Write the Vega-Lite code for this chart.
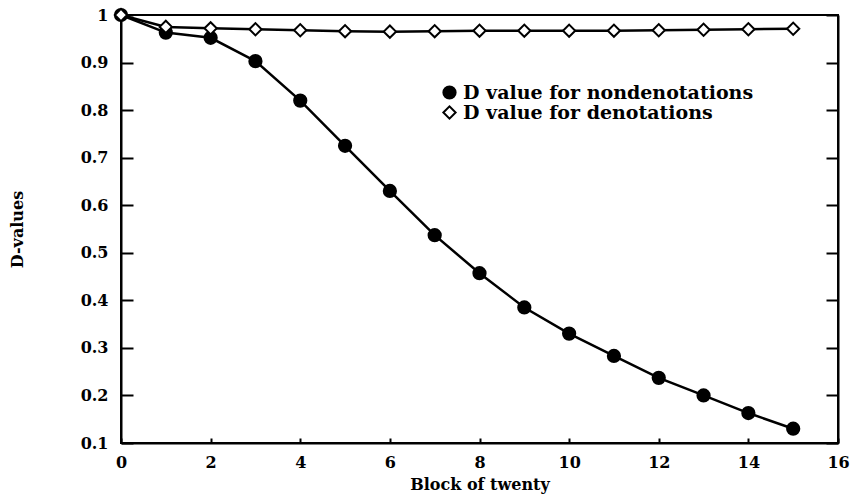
{
  "$schema": "https://vega.github.io/schema/vega-lite/v6.json",
  "width": 717,
  "height": 428,
  "autosize": "none",
  "padding": {"left": 121, "top": 15, "right": 15, "bottom": 60},
  "background": "white",
  "config": {
    "view": {"stroke": "black", "strokeWidth": 2},
    "font": "DejaVu Serif",
    "axis": {
      "grid": false,
      "domainColor": "black",
      "domainWidth": 2,
      "tickColor": "black",
      "tickWidth": 2,
      "labelFont": "DejaVu Serif",
      "labelFontWeight": "bold",
      "labelFontSize": 16,
      "labelColor": "black",
      "titleFont": "DejaVu Serif",
      "titleFontWeight": "bold",
      "titleFontSize": 16,
      "titleColor": "black"
    }
  },
  "data": {
    "values": [
      {"block": 0, "d": 1.0, "series": "D value for nondenotations"},
      {"block": 1, "d": 0.963, "series": "D value for nondenotations"},
      {"block": 2, "d": 0.952, "series": "D value for nondenotations"},
      {"block": 3, "d": 0.903, "series": "D value for nondenotations"},
      {"block": 4, "d": 0.82, "series": "D value for nondenotations"},
      {"block": 5, "d": 0.725, "series": "D value for nondenotations"},
      {"block": 6, "d": 0.63, "series": "D value for nondenotations"},
      {"block": 7, "d": 0.537, "series": "D value for nondenotations"},
      {"block": 8, "d": 0.457, "series": "D value for nondenotations"},
      {"block": 9, "d": 0.385, "series": "D value for nondenotations"},
      {"block": 10, "d": 0.33, "series": "D value for nondenotations"},
      {"block": 11, "d": 0.283, "series": "D value for nondenotations"},
      {"block": 12, "d": 0.237, "series": "D value for nondenotations"},
      {"block": 13, "d": 0.2, "series": "D value for nondenotations"},
      {"block": 14, "d": 0.163, "series": "D value for nondenotations"},
      {"block": 15, "d": 0.13, "series": "D value for nondenotations"},
      {"block": 0, "d": 1.0, "series": "D value for denotations"},
      {"block": 1, "d": 0.975, "series": "D value for denotations"},
      {"block": 2, "d": 0.972, "series": "D value for denotations"},
      {"block": 3, "d": 0.97, "series": "D value for denotations"},
      {"block": 4, "d": 0.968, "series": "D value for denotations"},
      {"block": 5, "d": 0.966, "series": "D value for denotations"},
      {"block": 6, "d": 0.965, "series": "D value for denotations"},
      {"block": 7, "d": 0.966, "series": "D value for denotations"},
      {"block": 8, "d": 0.967, "series": "D value for denotations"},
      {"block": 9, "d": 0.967, "series": "D value for denotations"},
      {"block": 10, "d": 0.967, "series": "D value for denotations"},
      {"block": 11, "d": 0.967, "series": "D value for denotations"},
      {"block": 12, "d": 0.968, "series": "D value for denotations"},
      {"block": 13, "d": 0.969, "series": "D value for denotations"},
      {"block": 14, "d": 0.97, "series": "D value for denotations"},
      {"block": 15, "d": 0.971, "series": "D value for denotations"}
    ]
  },
  "encoding": {
    "x": {
      "field": "block",
      "type": "quantitative",
      "scale": {"domain": [0, 16], "nice": false, "zero": false},
      "axis": {"values": [0, 2, 4, 6, 8, 10, 12, 14, 16], "title": "Block of twenty", "tickSize": -5, "labelPadding": 16, "titlePadding": 6, "labelFlush": false}
    }
  },
  "layer": [
    {
      "mark": {"type": "line", "color": "black", "strokeWidth": 2.5},
      "encoding": {
        "detail": {"field": "series"},
        "y": {
          "field": "d",
          "type": "quantitative",
          "scale": {"domain": [0.1, 1], "nice": false, "zero": false},
          "axis": {"orient": "left", "values": [0.1, 0.2, 0.3, 0.4, 0.5, 0.6, 0.7, 0.8, 0.9, 1], "format": "~g", "title": "D-values", "tickSize": -12, "labelPadding": 25, "titlePadding": 55, "labelFlush": false}
        }
      }
    },
    {
      "mark": {"type": "point", "stroke": "black", "strokeWidth": 2, "opacity": 1},
      "encoding": {
        "y": {"field": "d", "type": "quantitative", "axis": null},
        "shape": {
          "field": "series",
          "type": "nominal",
          "scale": {"domain": ["D value for nondenotations", "D value for denotations"], "range": ["circle", "diamond"]},
          "legend": {
            "title": null,
            "orient": "none",
            "legendX": 319,
            "legendY": 68,
            "labelFont": "DejaVu Serif",
            "labelFontWeight": "bold",
            "labelFontSize": 19,
            "labelColor": "black",
            "labelLimit": 500,
            "symbolSize": 150,
            "symbolStrokeWidth": 2,
            "rowPadding": -3
          }
        },
        "fill": {
          "field": "series",
          "type": "nominal",
          "scale": {"domain": ["D value for nondenotations", "D value for denotations"], "range": ["black", "white"]},
          "legend": {
            "title": null,
            "orient": "none",
            "legendX": 319,
            "legendY": 68,
            "labelFont": "DejaVu Serif",
            "labelFontWeight": "bold",
            "labelFontSize": 19,
            "labelColor": "black",
            "labelLimit": 500,
            "symbolSize": 150,
            "symbolStrokeWidth": 2,
            "rowPadding": -3
          }
        },
        "size": {"value": 150}
      }
    },
    {
      "mark": {"type": "tick", "opacity": 0},
      "encoding": {
        "y": {
          "field": "d",
          "type": "quantitative",
          "axis": {"orient": "right", "values": [0.1, 0.2, 0.3, 0.4, 0.5, 0.6, 0.7, 0.8, 0.9, 1], "labels": false, "title": null, "tickSize": -12, "domain": true}
        }
      }
    }
  ],
  "resolve": {"axis": {"y": "independent"}}
}
